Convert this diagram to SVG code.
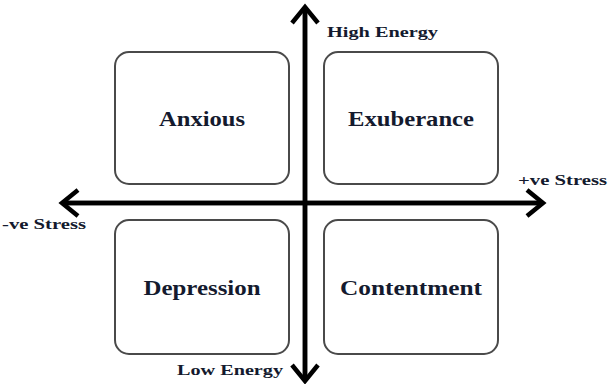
<svg xmlns="http://www.w3.org/2000/svg" width="608" height="384" viewBox="0 0 608 384">
  <style>
    .box { fill: #ffffff; stroke: #4a4a4a; stroke-width: 2; }
    .axis { stroke: #000000; stroke-width: 4.5; fill: none; }
    .node-label { font-family: "Liberation Serif", "Times New Roman", serif; font-weight: bold; font-size: 21px; fill: #141a2e; text-anchor: middle; }
    .axis-label { font-family: "Liberation Serif", "Times New Roman", serif; font-weight: bold; font-size: 15px; fill: #141a2e; }
  </style>
  <defs>
    <marker id="chevron" markerUnits="userSpaceOnUse" markerWidth="40" markerHeight="40" viewBox="-20 -20 40 40" refX="0" refY="0" orient="auto">
      <path d="M-16,-13 L0,0 L-16,13" fill="none" stroke="#000000" stroke-width="4.5" stroke-linejoin="miter"/>
    </marker>
  </defs>
  <rect width="608" height="384" fill="#ffffff"/>

  <g id="connectors">
    <line class="axis" x1="305" y1="381" x2="305" y2="7" marker-end="url(#chevron)"/>
    <line class="axis" x1="305" y1="7" x2="305" y2="381" marker-end="url(#chevron)"/>
    <line class="axis" x1="62" y1="203" x2="543" y2="203" marker-end="url(#chevron)"/>
    <line class="axis" x1="543" y1="203" x2="62" y2="203" marker-end="url(#chevron)"/>
  </g>

  <g id="anxious">
    <rect class="box" x="115" y="52" width="174" height="132" rx="14" ry="14"/>
    <text class="node-label" x="202" y="126" textLength="86" lengthAdjust="spacingAndGlyphs">Anxious</text>
  </g>
  <g id="exuberance">
    <rect class="box" x="324" y="52" width="174" height="132" rx="14" ry="14"/>
    <text class="node-label" x="411" y="126" textLength="126" lengthAdjust="spacingAndGlyphs">Exuberance</text>
  </g>
  <g id="depression">
    <rect class="box" x="115" y="220" width="174" height="134" rx="14" ry="14"/>
    <text class="node-label" x="202" y="295" textLength="117" lengthAdjust="spacingAndGlyphs">Depression</text>
  </g>
  <g id="contentment">
    <rect class="box" x="324" y="220" width="174" height="134" rx="14" ry="14"/>
    <text class="node-label" x="411" y="295" textLength="142" lengthAdjust="spacingAndGlyphs">Contentment</text>
  </g>

  <g id="axis-labels">
    <text class="axis-label" x="327" y="37" textLength="111" lengthAdjust="spacingAndGlyphs">High Energy</text>
    <text class="axis-label" x="177" y="375" textLength="106" lengthAdjust="spacingAndGlyphs">Low Energy</text>
    <text class="axis-label" x="518" y="185" textLength="89" lengthAdjust="spacingAndGlyphs">+ve Stress</text>
    <text class="axis-label" x="2" y="229" textLength="84" lengthAdjust="spacingAndGlyphs">-ve Stress</text>
  </g>
</svg>
